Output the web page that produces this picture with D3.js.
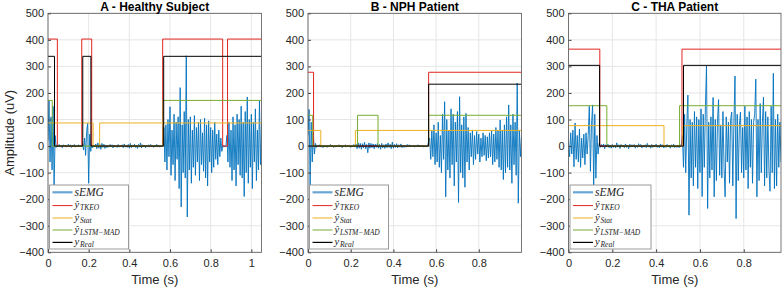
<!DOCTYPE html>
<html><head><meta charset="utf-8">
<script src="https://cdn.jsdelivr.net/npm/d3@7"></script>
<style>body{margin:0;background:#fff}svg{display:block}</style>
</head><body><svg id="c" width="783" height="290"></svg>
<script>
// sampling step of the sEMG traces (s)
const dt = 0.005;

// Panel A - Healthy subject sEMG (uV), one row = 0.05 s
const emgA = [
 20,170,-60,110,-90,150,-150,40,-5,4,
 -3,6,-2,3,-6,5,-1,4,-4,2,
 7,-3,5,-5,3,-2,6,-4,2,-3,
 5,-1,4,-2,8,-15,30,-35,55,86,
 -140,45,-20,5,-6,4,-3,8,-10,12,
 -8,6,-12,10,-5,7,-9,4,-6,3,
 -4,6,-3,5,-7,4,-2,3,-5,6,
 -4,2,-3,5,-6,8,-4,3,-5,6,
 -8,10,-6,4,-3,7,-5,3,-9,6,
 -4,12,-7,5,-3,4,-6,3,-2,5,
 -4,6,-3,2,-5,4,-3,6,-2,3,
 -4,2,-3,4,70,-60,80,-90,100,-40,
 148,-110,60,-70,120,-130,90,-50,110,-160,
 220,-229,80,-100,130,-120,340,-267,100,-90,
 110,-140,60,-80,115,-110,70,-60,90,-130,
 100,-70,50,-95,105,-120,80,-150,95,-60,
 70,-100,60,-80,90,-50,45,-70,60,-40,
 30,-20,3,-4,2,-3,40,-60,90,-80,
 60,-130,110,-90,80,-150,120,-70,100,-110,
 150,-120,90,-190,130,-100,185,-140,100,-80,
 120,-160,90,-60,140,-130,60,-90,170,-70,
 80
];
// Panel B - NPH patient
const emgB = [
 40,138,-150,90,-60,50,-30,10,-5,4,
 -3,5,-4,2,-6,3,-2,4,-5,3,
 -2,6,-3,4,-5,2,-4,3,-2,5,
 -3,4,-6,3,-2,5,-4,2,-3,4,
 -5,3,-2,6,-4,8,-10,12,-8,10,
 -12,9,-7,14,-10,6,-25,12,-8,10,
 -6,8,-10,7,-5,9,-8,6,-12,10,
 -7,5,-9,8,-6,12,-5,7,-10,15,
 -8,6,-5,9,-7,5,-4,8,-6,4,
 -5,3,-4,6,-3,5,-2,4,-3,2,
 -4,3,-2,5,-3,4,-2,3,-4,2,
 -3,2,-2,20,30,-50,60,-40,80,-70,
 50,-60,90,-80,40,-100,120,-50,167,-191,
 100,-90,60,-120,140,-70,120,-150,90,-60,
 130,-212,186,-100,80,-120,110,-155,123,-60,
 70,-90,50,-40,60,-70,40,-50,55,-30,
 45,-60,30,-40,50,-35,40,-55,35,-45,
 50,-40,60,-70,45,-60,70,-50,60,-80,
 98,-90,60,-126,80,-100,110,-80,155,-90,
 80,-140,120,-70,90,-110,237,-215,60,-40,
 35
];
// Panel C - THA patient
const emgC = [
 20,-40,50,-30,60,-78,87,-50,40,-60,
 64,-80,30,-45,45,-70,50,-30,40,150,
 -95,80,155,-147,120,-121,40,-30,10,-5,
 6,-4,8,-10,5,-3,7,-6,4,-8,
 6,-5,3,-7,12,-4,5,-9,6,-3,
 4,-6,8,-5,3,-10,7,-4,5,-3,
 6,-8,4,-5,9,-3,6,-7,3,-4,
 5,-6,10,-4,3,-8,6,-5,4,-3,
 7,-5,3,-6,8,-4,5,-7,3,-5,
 6,-3,4,-8,5,-4,7,-6,3,-5,
 4,-6,5,-3,40,-80,120,-100,80,192,
 -260,100,-120,90,-150,130,-80,110,-160,100,
 -100,140,-190,120,-80,150,302,-235,90,-120,
 110,-90,183,-191,100,-130,90,175,-110,80,
 -120,130,-80,-191,110,-60,90,-140,100,128,
 -150,90,264,-273,120,-130,80,128,-100,70,
 -120,150,-90,110,-160,130,-80,100,-140,90,
 120,252,-191,100,-130,160,-100,90,184,-150,
 130,-120,110,-90,-170,150,-100,274,-160,100,
 -150,120,-80,90,-60
];

// Detector outputs: switch times (s) and levels (uV)
const tkeoT_A = [0, 0.046, 0.166, 0.215, 0.564, 0.859, 0.883, 1.05];
const tkeoV_A = [403, 0, 403, 0, 403, 0, 403, 403];
const statT_A = [0, 0.222, 0.254, 1.05];
const statV_A = [87, 0, 87, 87];
const lstmT_A = [0, 0.021, 0.566, 1.05];
const lstmV_A = [172, 0, 172, 172];
const realT_A = [0, 0.032, 0.171, 0.211, 0.569, 1.05];
const realV_A = [338, 0, 338, 0, 338, 338];

const tkeoT_B = [0, 0.026, 0.565, 1.0];
const tkeoV_B = [278, 0, 278, 278];
const statT_B = [0, 0.060, 0.222, 1.0];
const statV_B = [59, 0, 59, 59];
const lstmT_B = [0, 0.022, 0.232, 0.328, 0.565, 1.0];
const lstmV_B = [116, 0, 116, 0, 116, 116];
const realT_B = [0, 0.565, 1.0];
const realV_B = [0, 233, 233];

const tkeoT_C = [0, 0.143, 0.518, 0.97];
const tkeoV_C = [365, 0, 365, 365];
const statT_C = [0, 0.436, 0.522, 0.97];
const statV_C = [77, 0, 77, 77];
const lstmT_C = [0, 0.175, 0.507, 0.97];
const lstmV_C = [152, 0, 152, 152];
const realT_C = [0, 0.142, 0.525, 0.97];
const realV_C = [304, 0, 304, 304];

const titles = ["A - Healthy Subject", "B - NPH Patient", "C - THA Patient"];
const xMax = [1.05, 1.0, 0.97];
const xTicksA = [0, 0.2, 0.4, 0.6, 0.8, 1];
const xTicksBC = [0, 0.2, 0.4, 0.6, 0.8];
const yTicks = [-400, -300, -200, -100, 0, 100, 200, 300, 400, 500];
const xLabel = "Time (s)";
const yLabel = "Amplitude (uV)";
const legendMain = ["sEMG", "ŷ", "ŷ", "ŷ", "y"];
const legendSub = ["", "TKEO", "Stat", "LSTM−MAD", "Real"];

const panels = [
  {emg: emgA, xt: xTicksA, st: [[tkeoT_A,tkeoV_A],[statT_A,statV_A],[lstmT_A,lstmV_A],[realT_A,realV_A]]},
  {emg: emgB, xt: xTicksBC, st: [[tkeoT_B,tkeoV_B],[statT_B,statV_B],[lstmT_B,lstmV_B],[realT_B,realV_B]]},
  {emg: emgC, xt: xTicksBC, st: [[tkeoT_C,tkeoV_C],[statT_C,statV_C],[lstmT_C,lstmV_C],[realT_C,realV_C]]}
];
const stepColors = ["#e3241f", "#EDB120", "#77AC30", "#000000"];
const emgColor = "#0072BD";
const layout = [{x0: 48, x1: 261.5}, {x0: 308, x1: 521.5}, {x0: 568.5, x1: 781}];
const yTop = 13.3, yBot = 252.3;
const FONT = "'Liberation Sans', Arial, Helvetica, sans-serif";
const SERIF = "'Liberation Serif', 'Times New Roman', serif";

const svg = d3.select("#c");
const defs = svg.append("defs");

panels.forEach((p, k) => {
  const L = layout[k];
  const x = d3.scaleLinear().domain([0, xMax[k]]).range([L.x0, L.x1]);
  const y = d3.scaleLinear().domain([-400, 500]).range([yBot, yTop]);
  const g = svg.append("g");

  defs.append("clipPath").attr("id", "clip" + k)
    .append("rect").attr("x", L.x0).attr("y", yTop).attr("width", L.x1 - L.x0).attr("height", yBot - yTop);

  // grid
  g.append("g").selectAll("line").data(p.xt).join("line")
    .attr("x1", d => x(d)).attr("x2", d => x(d)).attr("y1", yTop).attr("y2", yBot)
    .attr("stroke", "#e6e6e6").attr("stroke-width", 1);
  g.append("g").selectAll("line").data(yTicks).join("line")
    .attr("x1", L.x0).attr("x2", L.x1).attr("y1", d => y(d)).attr("y2", d => y(d))
    .attr("stroke", "#e6e6e6").attr("stroke-width", 1);

  // data
  const plot = g.append("g").attr("clip-path", `url(#clip${k})`);
  plot.append("path").datum(p.emg)
    .attr("d", d3.line().x((d, i) => x(i * dt)).y(d => y(d)))
    .attr("fill", "none").attr("stroke", emgColor).attr("stroke-width", 0.9);
  p.st.forEach((s, j) => {
    const pts = s[0].map((t, i) => [t, s[1][i]]);
    plot.append("path").datum(pts)
      .attr("d", d3.line().curve(d3.curveStepAfter).x(d => x(d[0])).y(d => y(d[1])))
      .attr("fill", "none").attr("stroke", stepColors[j]).attr("stroke-width", 1);
  });

  // axes
  const ax = g.append("g").attr("transform", `translate(0,${yBot})`)
    .call(d3.axisBottom(x).tickValues(p.xt).tickSizeInner(-3).tickSizeOuter(0).tickPadding(7)
      .tickFormat(d => String(+d.toFixed(1))));
  const ay = g.append("g").attr("transform", `translate(${L.x0},0)`)
    .call(d3.axisLeft(y).tickValues(yTicks).tickSizeInner(-3).tickSizeOuter(0).tickPadding(4));
  [ax, ay].forEach(a => {
    a.select(".domain").remove();
    a.selectAll(".tick line").attr("stroke", "#444");
    a.selectAll("text").attr("font-family", FONT).attr("font-size", 11).attr("fill", "#262626");
  });
  ax.selectAll("text").attr("dy", "0.71em");

  // box
  g.append("rect").attr("x", L.x0).attr("y", yTop).attr("width", L.x1 - L.x0).attr("height", yBot - yTop)
    .attr("fill", "none").attr("stroke", "#555").attr("stroke-width", 0.8);

  // title
  g.append("text").attr("x", (L.x0 + L.x1) / 2).attr("y", 10.5).attr("text-anchor", "middle")
    .attr("font-family", FONT).attr("font-size", 12).attr("font-weight", "bold").attr("fill", "#000")
    .text(titles[k]);
  // x label
  g.append("text").attr("x", (L.x0 + L.x1) / 2).attr("y", 284).attr("text-anchor", "middle")
    .attr("font-family", FONT).attr("font-size", 13).attr("fill", "#262626").text(xLabel);

  // legend
  const lx = L.x0 + 1.5, ly = 185, lw = (k === 2 ? 81 : 79), lh = 64;
  const lg = g.append("g");
  lg.append("rect").attr("x", lx).attr("y", ly).attr("width", lw).attr("height", lh)
    .attr("fill", "#fff").attr("stroke", "#9a9a9a").attr("stroke-width", 1);
  const rowY = [7.3, 20.6, 33, 45, 57.4];
  const lineCol = ["#6aa6d3", stepColors[0], stepColors[1], stepColors[2], stepColors[3]];
  const lineW = [2.2, 1, 1, 1, 1.2];
  legendMain.forEach((m, i) => {
    const yy = ly + rowY[i];
    lg.append("line").attr("x1", lx + 3).attr("x2", lx + 23).attr("y1", yy).attr("y2", yy)
      .attr("stroke", lineCol[i]).attr("stroke-width", lineW[i]);
    lg.append("text").attr("x", lx + 25).attr("y", yy + (i === 0 ? 3.5 : 2.5))
      .attr("font-family", SERIF).attr("font-style", "italic")
      .attr("font-size", i === 0 ? 11.5 : 10.5).attr("fill", "#222").text(m);
    if (legendSub[i]) {
      lg.append("text").attr("x", lx + 30.5).attr("y", yy + 4.5)
        .attr("font-family", SERIF).attr("font-style", "italic")
        .attr("font-size", 7.5).attr("fill", "#222").text(legendSub[i]);
    }
  });
});

// y label
svg.append("text").attr("transform", `translate(14,${(yTop + yBot) / 2}) rotate(-90)`)
  .attr("text-anchor", "middle").attr("font-family", FONT).attr("font-size", 13).attr("fill", "#262626")
  .text(yLabel);
</script>
</body></html>
